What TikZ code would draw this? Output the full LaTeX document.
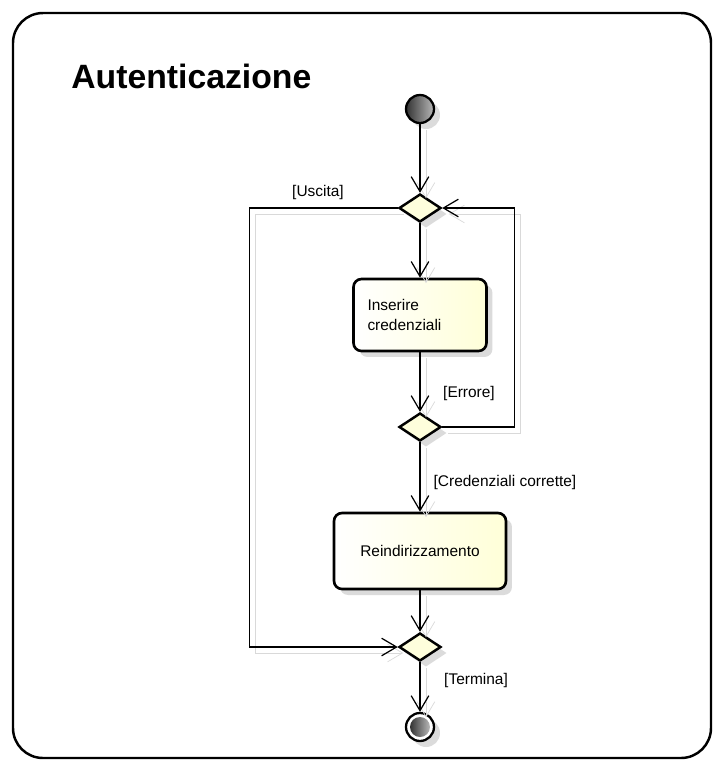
\documentclass[tikz,border=0pt]{standalone}
\usepackage{fontspec}
\setmainfont{Liberation Sans}
\usetikzlibrary{shapes.geometric,arrows.meta,shadows}
\definecolor{decfill}{HTML}{FEFEDC}
\definecolor{actfill}{HTML}{FFFFD8}

\begin{document}
\begin{tikzpicture}[x=0.02cm, y=-0.02cm,
  every node/.style={font=\fontsize{8.8}{11.3}\selectfont},
  nshadow/.style={drop shadow={shadow xshift=0.12cm, shadow yshift=-0.12cm, fill=black!14, opacity=1}},
  action/.style={draw, rectangle, rounded corners=0.16cm, line width=1.5pt, nshadow,
    left color=white, right color=actfill},
  decision/.style={draw, diamond, line width=1.4pt, inner sep=0pt, nshadow,
    minimum width=0.84cm, minimum height=0.56cm, fill=decfill},
  startnode/.style={draw, circle, line width=1.3pt, minimum size=0.56cm, inner sep=0pt, nshadow,
    left color=black!80, right color=gray!55},
  flow/.style={-{Straight Barb[length=8.5pt,width=10pt]}, line width=0.7pt,
    preaction={draw=black!15, transform canvas={shift={(6,6)}}}}]
\useasboundingbox (0,0) rectangle (724,772);
% frame and title
\draw[line width=1.4pt, rounded corners=0.6cm] (13,13) rectangle (711,758);
\node[anchor=base west, inner sep=0pt, font=\fontsize{19.2}{22}\selectfont\bfseries] (title) at (71,88) {Autenticazione};

% Nodes
\node[startnode] (start) at (420,109) {};
\node[decision] (d1) at (420,208) {};
\node[action, text width=2.1cm, inner xsep=0.28cm, minimum height=1.44cm, align=left] (insert) at (420,315) {Inserire\\credenziali};
\node[decision] (d2) at (420,427) {};
\node[action, minimum width=3.44cm, minimum height=1.52cm] (redirect) at (420,551) {Reindirizzamento};
\node[decision] (d3) at (420,647) {};
\node[draw, circle, line width=1.3pt, minimum size=0.56cm, inner sep=0pt, fill=white, nshadow] (stop) at (420,727) {};
\node[circle, minimum size=0.4cm, inner sep=0pt, left color=black!80, right color=gray!55] (stopdot) at (stop) {};

% Arrows
\draw[flow] (start) -- (d1);
\draw[flow] (d1) -- (insert);
\draw[flow] (insert) -- (d2);
\draw[flow] (d2.east) -- ++(72,0) |- (d1.east);
\draw[flow] (d2) -- (redirect);
\draw[flow] (redirect) -- (d3);
\draw[flow] (d1.west) -- ++(-148,0) |- (d3.west);
\draw[flow] (d3) -- (stop);

% Labels
\node (uscita) at (318,192) {[Uscita]};
\node (errore) at (469,393) {[Errore]};
\node (corrette) at (505,482) {[Credenziali corrette]};
\node (termina) at (476,680) {[Termina]};
\end{tikzpicture}
\end{document}
